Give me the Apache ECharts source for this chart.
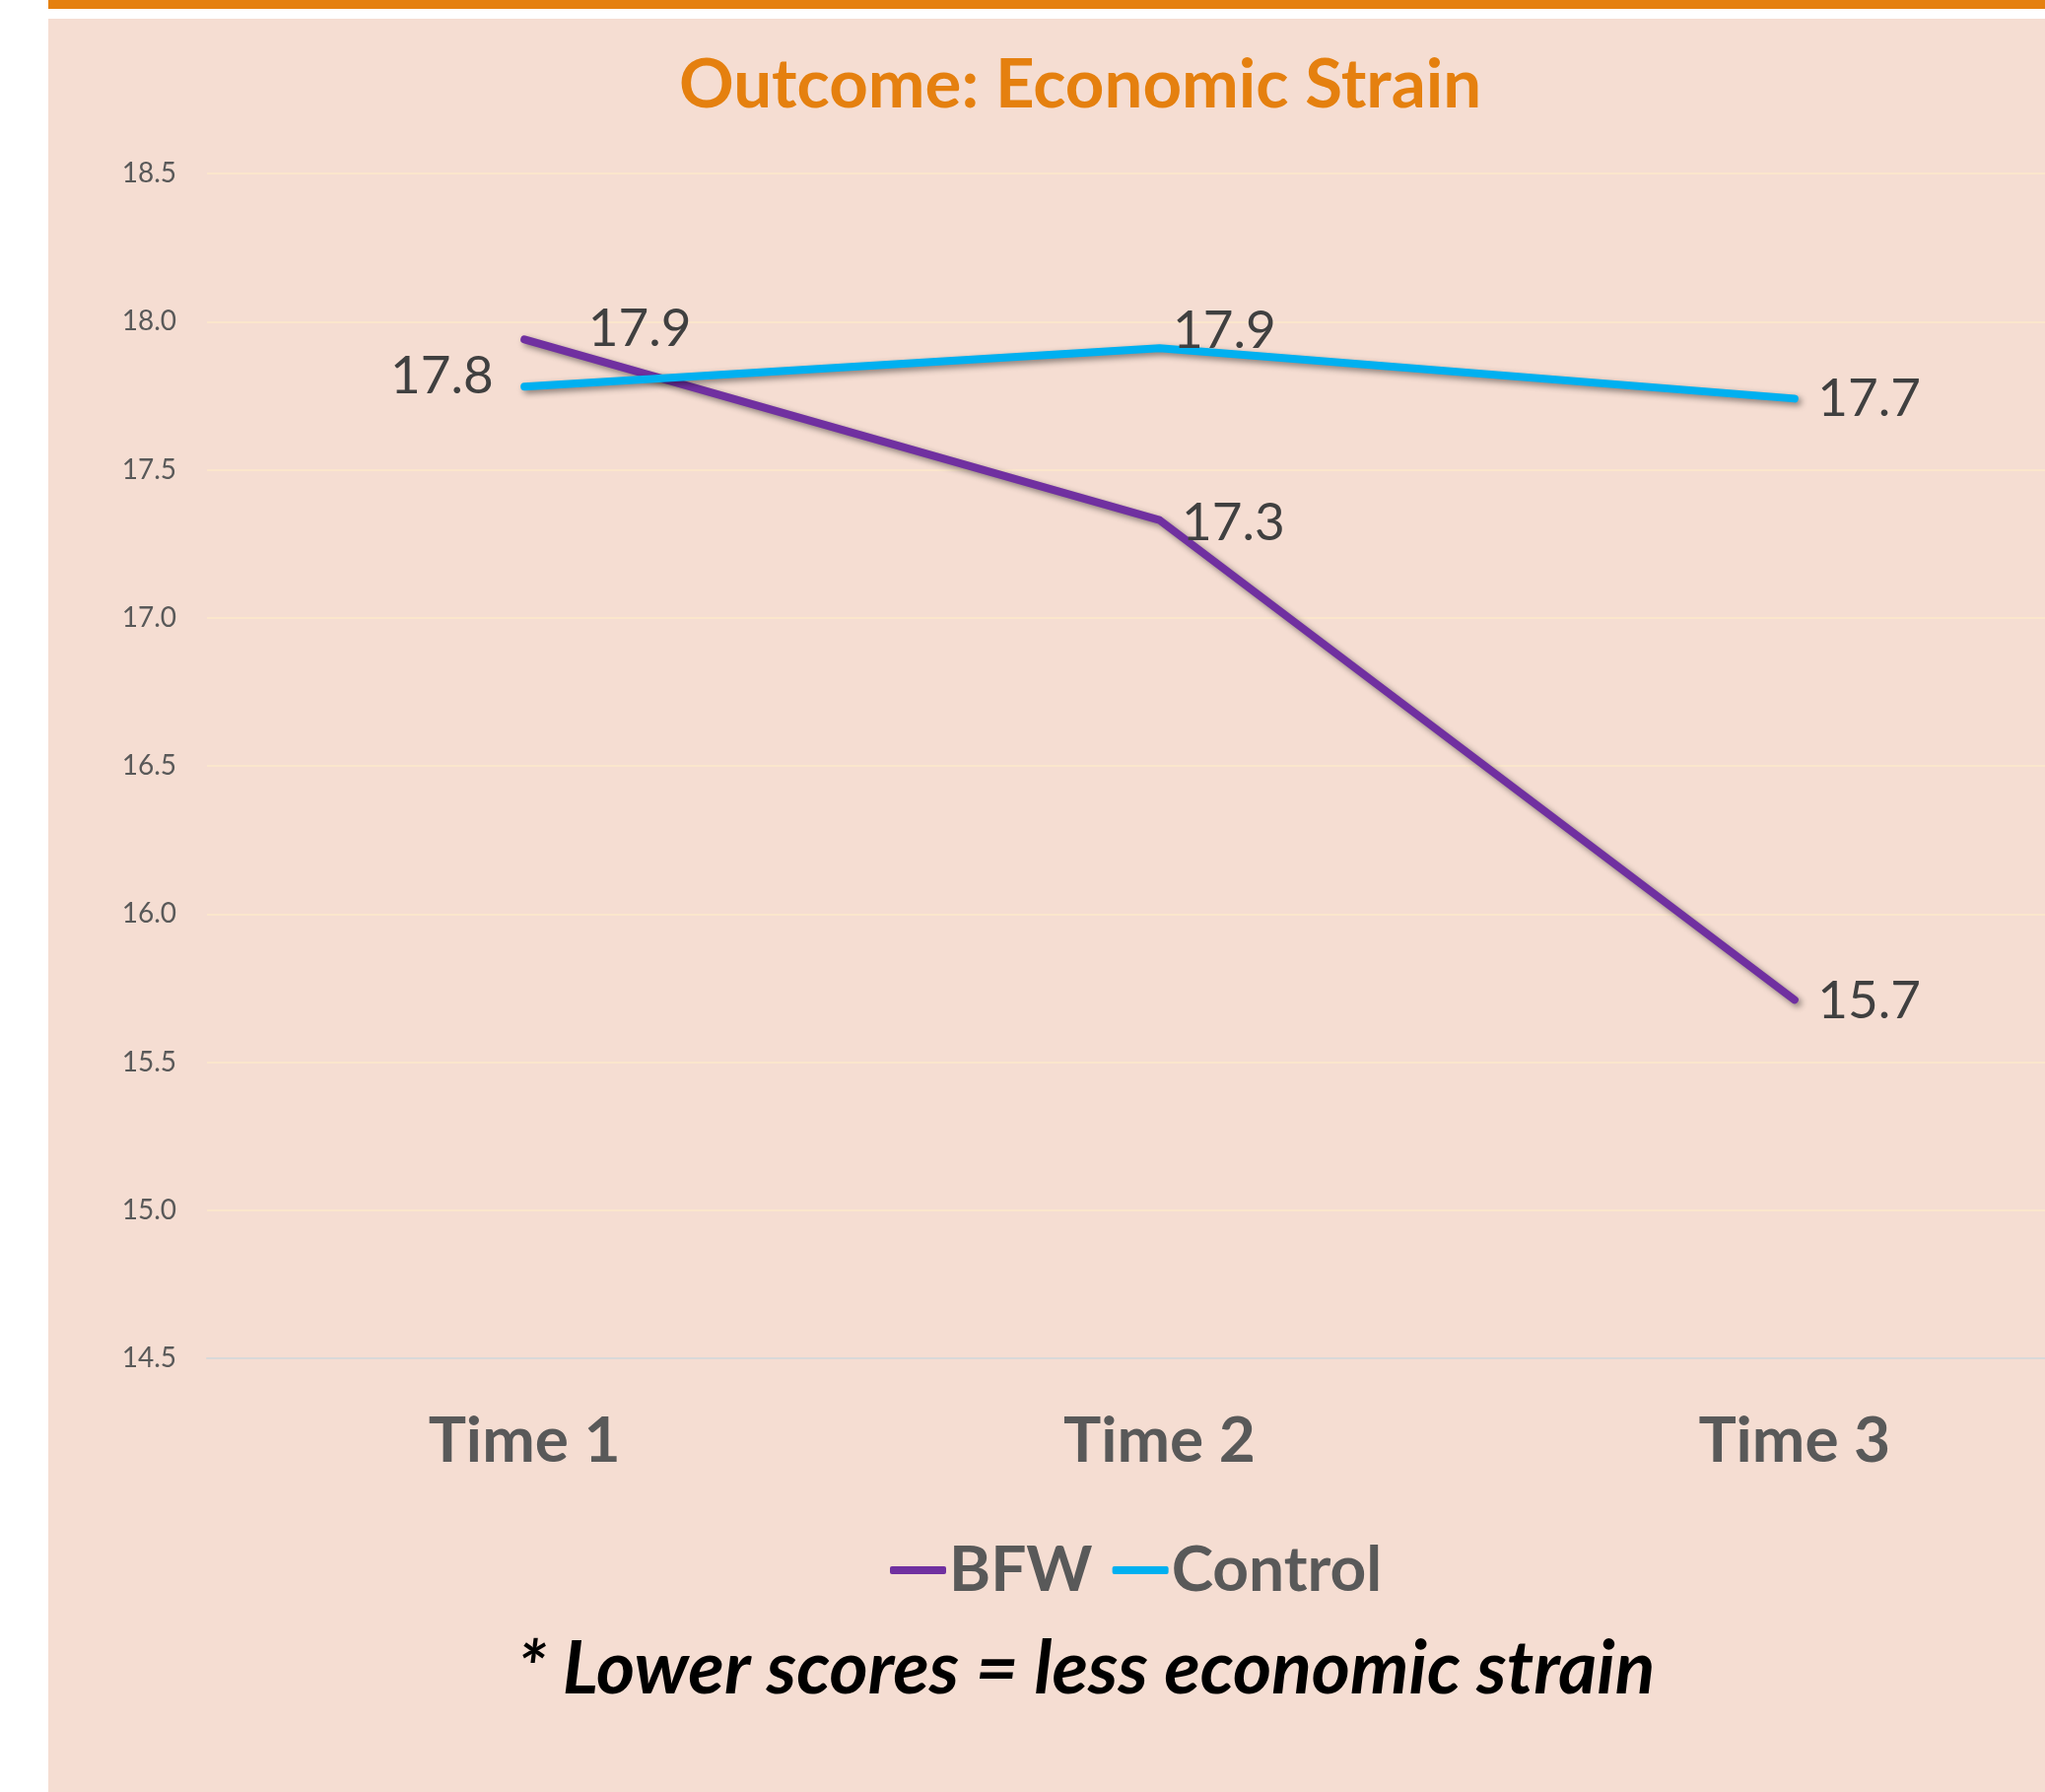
<!DOCTYPE html>
<html>
<head>
<meta charset="utf-8">
<script src="https://cdn.jsdelivr.net/npm/echarts@6/dist/echarts.min.js"></script>
<style>
  html, body { margin: 0; padding: 0; background: #ffffff; }
  #topbar { position: absolute; left: 49px; top: 0; width: 2026px; height: 9px; background: #E5800F; }
  #panel { position: absolute; left: 49px; top: 19px; width: 2026px; height: 1799px; background: #F5DDD2; }
  #main { position: absolute; left: 0; top: 0; width: 2075px; height: 1818px; }
</style>
</head>
<body>
<div id="topbar"></div>
<div id="panel"></div>
<div id="main"></div>
<script>
// categories and values
var categories = ['Time 1', 'Time 2', 'Time 3'];
var bfwValues = [17.94, 17.33, 15.71];
var controlValues = [17.78, 17.91, 17.74];
var yTicks = { min: 14.5, max: 18.5, step: 0.5 };

// label placement per point (Excel put them by hand)
var bfwLabelPos = [
  { position: 'right', distance: 22, offset: [42, -10] },
  { position: 'right', distance: 22, offset: [0, 3] },
  { position: 'right', distance: 23, offset: [0, 2] }
];
var controlLabelPos = [
  { position: 'left', distance: 31, offset: [0, -10] },
  { position: 'right', distance: 13, offset: [0, -17] },
  { position: 'right', distance: 23, offset: [0, 1] }
];

function withLabels(values, pos) {
  return values.map(function (v, i) {
    return { value: v, label: pos[i] };
  });
}

var labelStyle = {
  show: true,
  fontFamily: 'Lato',
  fontSize: 53,
  color: '#404040',
  formatter: function (p) { return p.value.toFixed(1); }
};

var lineShadow = { shadowColor: 'rgba(0,0,0,0.45)', shadowBlur: 6, shadowOffsetX: 3, shadowOffsetY: 3 };

var chart = echarts.init(document.getElementById('main'));
chart.setOption({
  animation: false,
  textStyle: { fontFamily: 'Lato' },
  grid: { left: 210, top: 176, bottom: 440, width: 1933, outerBoundsMode: 'none', containLabel: false },
  graphic: [
    {
      type: 'text', z: 10,
      x: 1096, y: 87,
      style: {
        text: 'Outcome: Economic Strain',
        fontFamily: 'Lato', fontWeight: 'bold', fontSize: 69,
        fill: '#E5800F', textAlign: 'center', textVerticalAlign: 'middle'
      }
    },
    {
      type: 'text', z: 10,
      x: 1102, y: 1694,
      style: {
        text: '* Lower scores = less economic strain',
        fontFamily: 'Lato', fontWeight: 'bold', fontStyle: 'italic', fontSize: 75,
        fill: '#000000', textAlign: 'center', textVerticalAlign: 'middle'
      }
    }
  ],
  legend: {
    left: 898, top: 1556,
    icon: 'roundRect',
    itemWidth: 57, itemHeight: 8, itemGap: 20,
    textStyle: { fontFamily: 'Lato', fontWeight: 'bold', fontSize: 64, color: '#595959', padding: [0, 0, 0, -2] },
    data: ['BFW', 'Control']
  },
  xAxis: {
    type: 'category',
    data: categories,
    boundaryGap: true,
    axisLine: { lineStyle: { color: '#D9D9D9', width: 2 } },
    axisTick: { show: false },
    axisLabel: { fontFamily: 'Lato', fontWeight: 'bold', fontSize: 64, color: '#595959', margin: 52 }
  },
  yAxis: {
    type: 'value',
    min: yTicks.min, max: yTicks.max, interval: yTicks.step,
    axisLine: { show: false },
    axisTick: { show: false },
    splitLine: { lineStyle: { color: '#FBE6CC', width: 2 } },
    axisLabel: {
      fontFamily: 'Lato', fontSize: 28, color: '#595959', margin: 31,
      formatter: function (v) { return v.toFixed(1); }
    }
  },
  series: [
    {
      name: 'BFW', type: 'line', symbol: 'circle', symbolSize: 1, showSymbol: true,
      data: withLabels(bfwValues, bfwLabelPos),
      itemStyle: { color: '#7030A0' },
      lineStyle: Object.assign({ color: '#7030A0', width: 8, cap: 'round', join: 'round' }, lineShadow),
      label: labelStyle
    },
    {
      name: 'Control', type: 'line', symbol: 'circle', symbolSize: 1, showSymbol: true,
      data: withLabels(controlValues, controlLabelPos),
      itemStyle: { color: '#00B0F0' },
      lineStyle: Object.assign({ color: '#00B0F0', width: 8, cap: 'round', join: 'round' }, lineShadow),
      label: labelStyle
    }
  ]
});
</script>
</body>
</html>
